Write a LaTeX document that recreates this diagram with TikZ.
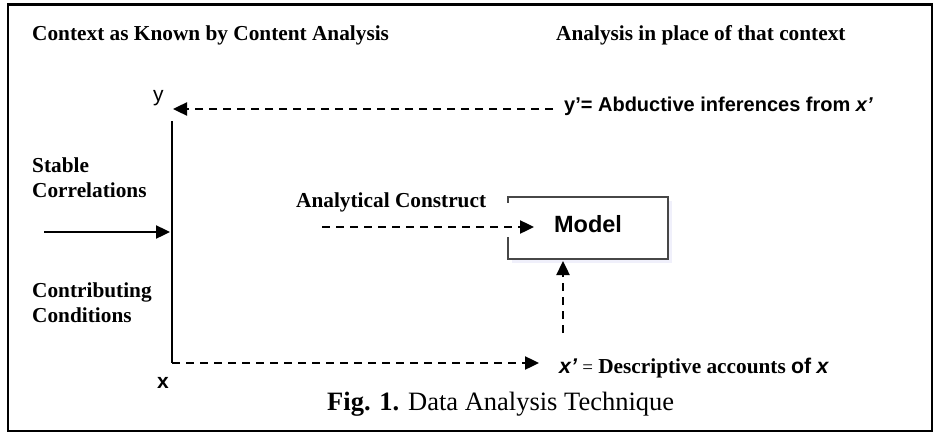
\documentclass[tikz,border=0pt]{standalone}
\usepackage{fontspec}
\setmainfont{Liberation Serif}
\setsansfont{Liberation Sans}
\usetikzlibrary{arrows.meta,calc}

\begin{document}
\begin{tikzpicture}[x=1pt,y=-1pt,
  serifbold/.style={anchor=base west,inner sep=0pt,font=\fontsize{21.3}{25}\selectfont\bfseries},
  sansbold/.style={anchor=base west,inner sep=0pt,font=\fontsize{20}{24}\selectfont\sffamily\bfseries},
  axislbl/.style={anchor=base west,inner sep=0pt,font=\fontsize{21}{24}\selectfont\sffamily},
  solidline/.style={line width=2.5pt},
  conn/.style={line width=2.4pt,-{Triangle[length=14pt,width=13pt]}},
  dashconn/.style={conn,dash pattern=on 8pt off 6pt},
  boxline/.style={line width=2.4pt,draw=black!72},
  shadowfill/.style={fill=black!25!blue!6!white}
]
\useasboundingbox (0,0) rectangle (933,433);

% outer frame
\draw[line width=1.6pt] (8,5) rectangle (932,431);
\draw[line width=3pt] (7,5) -- (933,5);

% column headings
\node[serifbold] (headl) at (32,41) {Context as Known by Content Analysis};
\node[serifbold] (headr) at (556,41) {Analysis in place of that context};

% axis labels
\node[axislbl] (ylab) at (153,102) {y};
\node[axislbl,font=\fontsize{21}{24}\selectfont\sffamily\bfseries] (xlab) at (157,388) {x};

% left-side conditions
\node[serifbold] (stable) at (32,172) {Stable};
\node[serifbold] (correl) at (32,197) {Correlations};
\node[serifbold] (contrib) at (32,297) {Contributing};
\node[serifbold] (condit) at (32,322) {Conditions};

% construct label
\node[serifbold] (construct) at (296,207) {Analytical Construct};

% key coordinates
\coordinate (ytop) at (172,121);
\coordinate (xcorner) at (172,363);
\coordinate (ytip) at (173,109);
\coordinate (ystart) at (553,109);
\coordinate (condstart) at (44,232);
\coordinate (condtip) at (170,232);
\coordinate (cstart) at (322,227);
\coordinate (ctip) at (534,227);
\coordinate (xtip) at (539,363);
\coordinate (upstart) at (563,333);
\coordinate (uptip) at (563,261);

% model box with shadow
\node[minimum width=160pt,minimum height=62pt,inner sep=0pt] (model) at (588,228) {};
\fill[shadowfill] ($(model.north west)+(4,4)$) rectangle ($(model.south east)+(4,4)$);
\fill[white] (model.north west) rectangle (model.south east);
\draw[boxline] ($(model.north west)+(0,6)$) -- (model.north west) -- (model.north east)
  -- (model.south east) -- (model.south west) -- ($(model.south west)+(0,-22)$);
\node[anchor=base,inner sep=0pt,font=\fontsize{23.5}{26}\selectfont\sffamily\bfseries] (modeltxt) at (588,232) {Model};

% right-side labels
\node[sansbold] (yprime) at (564,112) {y’= Abductive inferences from \textit{x’}};
\node[serifbold] (xprime) at (559,373)
  {{\sffamily\itshape x’} {\mdseries\fontsize{19}{22}\selectfont =} Descriptive accounts {\sffamily of} {\sffamily\itshape x}};

% connectors
\draw[solidline] (ytop) -- (xcorner);
\draw[dashconn] (ystart) -- (ytip);
\draw[conn] (condstart) -- (condtip);
\draw[dashconn] (cstart) -- (ctip);
\draw[dashconn] (xcorner) -- (xtip);
\draw[dashconn] (upstart) -- (uptip);

% caption
\node[anchor=base west,inner sep=0pt,font=\fontsize{26.5}{30}\selectfont] (caption) at (327,410)
  {\textbf{Fig. 1.} Data Analysis Technique};
\end{tikzpicture}
\end{document}
